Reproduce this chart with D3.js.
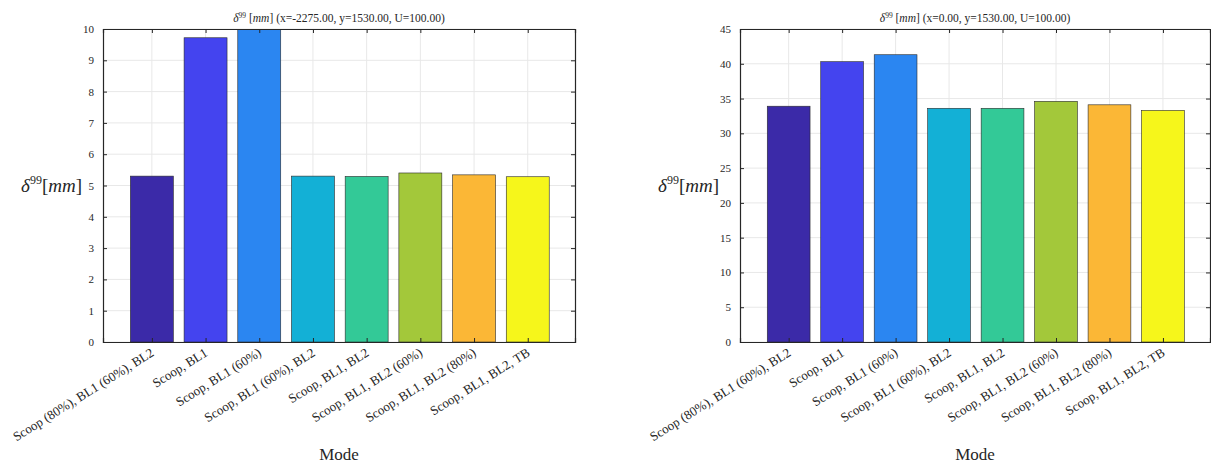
<html>
    <head>
        <title>delta99 per mode</title>
        <script src="https://cdn.jsdelivr.net/npm/d3@7"></script>
        <style>
            body { margin: 0; background: #ffffff; }
            text { font-family: "Liberation Serif", "DejaVu Serif", serif; fill: #262626; }
        </style>
    </head>
    <body>
        <div id="chart"></div>
    </body>
</html>

<script type="text/javascript">

    // data
    var modes = ["Scoop (80%), BL1 (60%), BL2", "Scoop, BL1", "Scoop, BL1 (60%)",
                 "Scoop, BL1 (60%), BL2", "Scoop, BL1, BL2", "Scoop, BL1, BL2 (60%)",
                 "Scoop, BL1, BL2 (80%)", "Scoop, BL1, BL2, TB"];
    var barColors = ["#3b2aa8", "#4444ef", "#2b86f1", "#13b0d6", "#33c997", "#a3c83a", "#fbb736", "#f6f61b"];

    var leftValues = [5.30, 9.72, 10.3, 5.30, 5.29, 5.40, 5.34, 5.28];
    var rightValues = [33.9, 40.3, 41.3, 33.6, 33.6, 34.6, 34.1, 33.3];

    var leftTicks = [0, 1, 2, 3, 4, 5, 6, 7, 8, 9, 10];
    var rightTicks = [0, 5, 10, 15, 20, 25, 30, 35, 40, 45];

    var leftTitle = "(x=-2275.00, y=1530.00, U=100.00)";
    var rightTitle = "(x=0.00, y=1530.00, U=100.00)";

    var width = 1211,
        height = 467;

    var svg = d3.select("#chart")
        .append("svg")
        .attr("width", width)
        .attr("height", height);

    var defs = svg.append("defs");

    function drawPanel(id, left, right, values, ticks, ymax, titleRest) {
        var top = 29, bottom = 342;

        var x = d3.scaleLinear()
            .domain([0.09, 8.88])
            .range([left, right]);

        var y = d3.scaleLinear()
            .domain([0, ymax])
            .range([bottom, top]);

        var g = svg.append("g");

        defs.append("clipPath")
            .attr("id", "clip" + id)
            .append("rect")
            .attr("x", left)
            .attr("y", top)
            .attr("width", right - left)
            .attr("height", bottom - top);

        // grid
        g.append("g")
            .selectAll("line.hgrid")
            .data(ticks)
            .enter()
            .append("line")
            .attr("x1", left).attr("x2", right)
            .attr("y1", function(d) { return y(d); })
            .attr("y2", function(d) { return y(d); })
            .attr("stroke", "#e8e8e8")
            .attr("stroke-width", 1);

        g.append("g")
            .selectAll("line.vgrid")
            .data(modes)
            .enter()
            .append("line")
            .attr("x1", function(d, i) { return x(i + 1); })
            .attr("x2", function(d, i) { return x(i + 1); })
            .attr("y1", top).attr("y2", bottom)
            .attr("stroke", "#e8e8e8")
            .attr("stroke-width", 1);

        // bars
        var bw = x(1.8) - x(1);
        g.append("g")
            .attr("clip-path", "url(#clip" + id + ")")
            .selectAll("rect")
            .data(values)
            .enter()
            .append("rect")
            .attr("x", function(d, i) { return x(i + 1) - bw / 2; })
            .attr("width", bw)
            .attr("y", function(d) { return y(d); })
            .attr("height", function(d) { return bottom - y(d); })
            .attr("fill", function(d, i) { return barColors[i]; })
            .attr("stroke", "#2a2a2a")
            .attr("stroke-width", 0.6);

        // axes (MATLAB box style, ticks inward)
        var yAxis = g.append("g")
            .attr("transform", "translate(" + left + ",0)")
            .call(d3.axisLeft(y).tickValues(ticks).tickSize(-4).tickPadding(9));
        var yAxisR = g.append("g")
            .attr("transform", "translate(" + right + ",0)")
            .call(d3.axisRight(y).tickValues(ticks).tickSize(-4).tickFormat(""));
        var xAxis = g.append("g")
            .attr("transform", "translate(0," + bottom + ")")
            .call(d3.axisBottom(x).tickValues(d3.range(1, 9)).tickSize(-4).tickFormat(""));
        var xAxisT = g.append("g")
            .attr("transform", "translate(0," + top + ")")
            .call(d3.axisTop(x).tickValues(d3.range(1, 9)).tickSize(-4).tickFormat(""));

        [yAxis, yAxisR, xAxis, xAxisT].forEach(function(a) {
            a.select(".domain").attr("stroke", "#262626").attr("stroke-width", 1.2);
            a.selectAll(".tick line").attr("stroke", "#262626");
        });
        yAxis.selectAll(".tick text")
            .style("font-family", "'Liberation Serif', serif")
            .style("font-size", "11px")
            .attr("fill", "#262626");

        // rotated category labels
        g.append("g")
            .selectAll("text")
            .data(modes)
            .enter()
            .append("text")
            .attr("transform", function(d, i) {
                return "translate(" + (x(i + 1) + 3) + "," + (bottom + 13) + ") rotate(-32)";
            })
            .style("text-anchor", "end")
            .style("font-size", "13px")
            .text(function(d) { return d; });

        var cx = (left + right) / 2;

        // title
        var t = g.append("text")
            .attr("x", cx)
            .attr("y", 22)
            .style("text-anchor", "middle")
            .style("font-size", "11.5px");
        t.append("tspan").style("font-style", "italic").text("\u03b4");
        t.append("tspan").attr("dy", -4).style("font-size", "7.5px").text("99");
        t.append("tspan").attr("dy", 4).text(" [");
        t.append("tspan").style("font-style", "italic").text("mm");
        t.append("tspan").text("] " + titleRest);

        // y label
        var yl = g.append("text")
            .attr("x", left - 21)
            .attr("y", 192)
            .style("text-anchor", "end")
            .style("font-size", "19px");
        yl.append("tspan").style("font-style", "italic").text("\u03b4");
        yl.append("tspan").attr("dy", -8).style("font-size", "12px").text("99");
        yl.append("tspan").attr("dy", 8).text("[");
        yl.append("tspan").style("font-style", "italic").text("mm");
        yl.append("tspan").text("]");

        // x label
        g.append("text")
            .attr("x", cx)
            .attr("y", 460)
            .style("text-anchor", "middle")
            .style("font-size", "17px")
            .text("Mode");
    }

    drawPanel("L", 103, 575, leftValues, leftTicks, 10, leftTitle);
    drawPanel("R", 740, 1210, rightValues, rightTicks, 45, rightTitle);

</script>
